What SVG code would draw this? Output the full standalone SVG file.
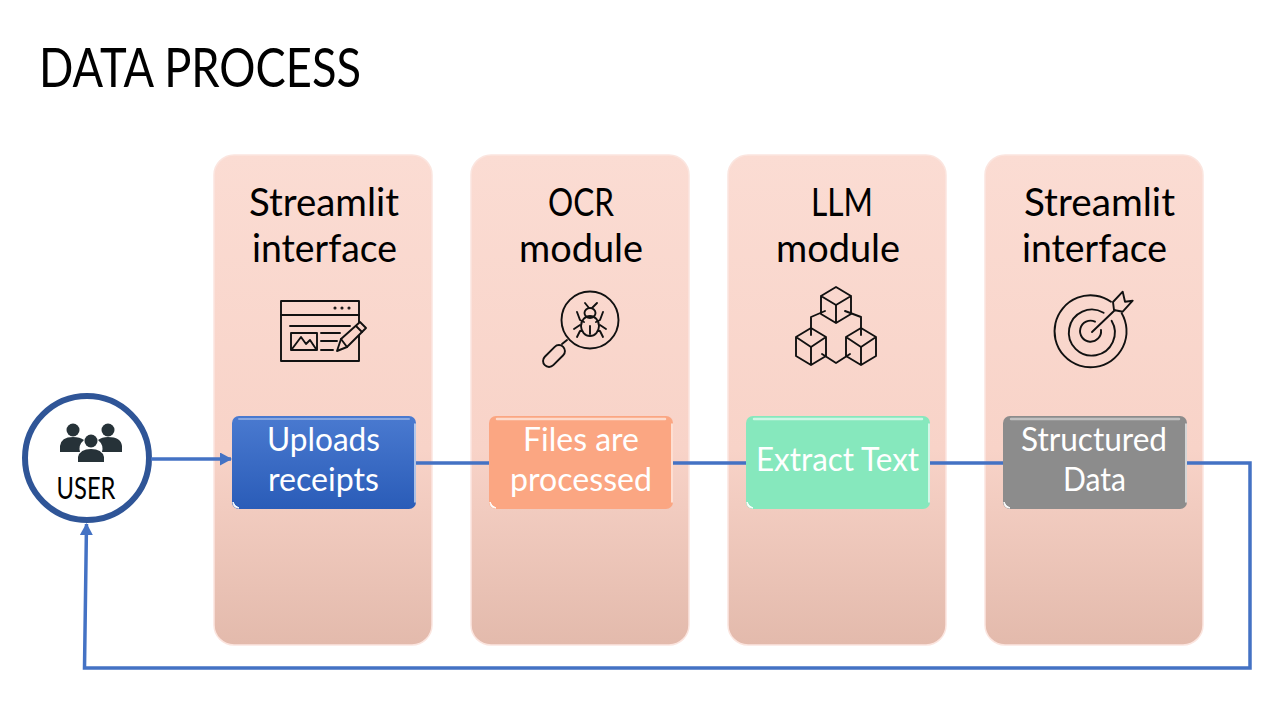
<svg xmlns="http://www.w3.org/2000/svg" width="1280" height="720" viewBox="0 0 1280 720">
<style>
text{font-family:Lato,"Noto Sans","Open Sans","DejaVu Sans",sans-serif;text-anchor:middle}
.h{font-size:39px;fill:#000}
.b{font-size:33px;fill:#fff}
.col{fill:url(#g);stroke:#fbe5df;stroke-width:1.5}
.ic{fill:none;stroke:#111;stroke-width:1.9;stroke-linejoin:round;stroke-linecap:round}
.c{fill:none;stroke:#4472c4;stroke-width:3.5}
.hi{fill:none;stroke:#fff;stroke-linecap:round}
</style>
<defs>
<linearGradient id="g" x1="0" y1="0" x2="0" y2="1"><stop offset="0" stop-color="#fbdcd3"/><stop offset=".6" stop-color="#f8d3c8"/><stop offset="1" stop-color="#e3baac"/></linearGradient>
<linearGradient id="bl" x1="0" y1="0" x2="0" y2="1"><stop offset="0" stop-color="#4a7ad0"/><stop offset="1" stop-color="#2a5cb8"/></linearGradient>
<marker id="a" markerUnits="userSpaceOnUse" markerWidth="12" markerHeight="13" refX="11" refY="6.5" orient="auto"><path d="M0 0L12 6.5L0 13Z" fill="#4472c4"/></marker>
</defs>
<rect width="1280" height="720" fill="#fff"/>
<text x="200" y="87" style="font-size:54px" fill="#000" textLength="322" lengthAdjust="spacingAndGlyphs">DATA PROCESS</text>
<g id="col1"><rect class="col" x="214" y="155" width="218" height="490" rx="20"/><text class="h" x="324" y="216" textLength="150" lengthAdjust="spacingAndGlyphs">Streamlit</text><text class="h" x="324.500" y="262" textLength="145" lengthAdjust="spacingAndGlyphs">interface</text>
<g class="ic"><rect x="281" y="301" width="78" height="60"/><path d="M281 315H359M290 326H350M321 333H340M321 341H337M321 350H333M292 349L301 337L306 344L310 340L316 349"/><rect x="291" y="333" width="26" height="17"/><path d="M337 351L341 339L360 322L366 328L347 347Z" fill="#fad5ca"/><path d="M341 339L347 347M356 326L362 332"/><circle cx="335" cy="308" r=".6"/><circle cx="342" cy="308" r=".6"/><circle cx="349" cy="308" r=".6"/></g>
<g id="box1"><rect x="232" y="416" width="184" height="93" rx="7" fill="url(#bl)"/><path class="hi" stroke-width="2" opacity=".35" d="M239 419H409"/><path class="hi" stroke-width="1.5" opacity=".8" d="M415 424V502"/><path d="M233 502Q233 508 239 508Q234 506 233 502Z" fill="#fff" stroke="#fff"/><text class="b" x="323.500" y="451" textLength="113" lengthAdjust="spacingAndGlyphs">Uploads</text><text class="b" x="323.500" y="491" textLength="111" lengthAdjust="spacingAndGlyphs">receipts</text></g></g>
<g id="col2"><rect class="col" x="471" y="155" width="218" height="490" rx="20"/><text class="h" x="581" y="216" textLength="66" lengthAdjust="spacingAndGlyphs">OCR</text><text class="h" x="581" y="262" textLength="124" lengthAdjust="spacingAndGlyphs">module</text>
<g class="ic"><circle cx="590" cy="320" r="28.500"/><path d="M562 344L567 340"/><rect x="-6" y="-13" width="12" height="26" rx="6" transform="translate(554 356) rotate(45)"/><ellipse cx="590" cy="313" rx="5.500" ry="5"/><ellipse cx="590" cy="326" rx="9" ry="10"/><path d="M590 326V334M585 303L589 308M597 303L592 308M577 312L580 320L584 322M603 312L600 320L596 322M574 329L580 325M606 329L600 325M577 337L580 331L582 331M603 337L600 331L598 331"/></g>
<g id="box2"><rect x="489" y="416" width="184" height="93" rx="7" fill="#fba682"/><path class="hi" stroke-width="2.500" opacity=".6" d="M497 419H665"/><path class="hi" stroke-width="1.500" opacity=".85" d="M672 424V502"/><path d="M490 502Q490 508 496 508Q491 506 490 502Z" fill="#fff" stroke="#fff"/><text class="b" x="581" y="451" textLength="116" lengthAdjust="spacingAndGlyphs">Files are</text><text class="b" x="581" y="491" textLength="142" lengthAdjust="spacingAndGlyphs">processed</text></g></g>
<g id="col3"><rect class="col" x="728" y="155" width="218" height="490" rx="20"/><text class="h" x="842" y="216" textLength="62" lengthAdjust="spacingAndGlyphs">LLM</text><text class="h" x="838" y="262" textLength="124" lengthAdjust="spacingAndGlyphs">module</text>
<g class="ic"><path d="M836 287L851 296V314L836 323L821 314V296ZM821 296L836 305L851 296M836 305V323"/><path d="M811 328L826 337V356L811 365L796 356V337ZM796 337L811 347L826 337M811 347V365"/><path d="M861 328L876 337V356L861 365L846 356V337ZM846 337L861 347L876 337M861 347V365"/><path d="M811 335V317L825 311M861 335V317L845 311M822 354L836 363L850 354"/></g>
<g id="box3"><rect x="746" y="416" width="184" height="93" rx="7" fill="#86e8bd"/><path class="hi" stroke-width="2.500" opacity=".6" d="M754 419H922"/><path class="hi" stroke-width="1.500" opacity=".85" d="M929 424V502"/><path d="M747 502Q747 508 753 508Q748 506 747 502Z" fill="#fff" stroke="#fff"/><text class="b" x="837.500" y="471" textLength="163" lengthAdjust="spacingAndGlyphs">Extract Text</text></g></g>
<g id="col4"><rect class="col" x="985" y="155" width="218" height="490" rx="20"/><text class="h" x="1099.500" y="216" textLength="151" lengthAdjust="spacingAndGlyphs">Streamlit</text><text class="h" x="1094.500" y="262" textLength="145" lengthAdjust="spacingAndGlyphs">interface</text>
<g class="ic"><path d="M1111 301.700A36 36 0 1 0 1121.700 313.300M1103.600 312.800A23 23 0 1 0 1111.600 320.800M1095 321.700A10.500 10.500 0 1 0 1101 330"/><path d="M1092 332L1115 310M1113 302L1122.700 291.700L1125 301.700L1132.700 300.700L1122.700 311.700L1114 310Z"/></g>
<g id="box4"><rect x="1003" y="416" width="184" height="93" rx="7" fill="#8c8c8c"/><path class="hi" stroke-width="2.500" opacity=".45" d="M1011 419H1179"/><path class="hi" stroke-width="1.500" opacity=".85" d="M1186 424V502"/><path d="M1004 502Q1004 508 1010 508Q1005 506 1004 502Z" fill="#fff" stroke="#fff"/><text class="b" x="1094" y="451" textLength="146" lengthAdjust="spacingAndGlyphs">Structured</text><text class="b" x="1094.500" y="491" textLength="63" lengthAdjust="spacingAndGlyphs">Data</text></g></g>
<g id="user"><circle cx="87" cy="458" r="62" fill="#fff" stroke="#2f5597" stroke-width="6"/>
<g fill="#263238"><circle cx="73" cy="430" r="6.500"/><circle cx="108" cy="430" r="6.500"/><path d="M60 452V446Q61 437 73 437Q80 437 84 440Q78 445 80 452ZM122 452V446Q121 437 108 437Q102 437 98 440Q104 445 102 452Z"/><circle cx="91" cy="441" r="6.500"/><path d="M78 462V457Q80 449 91 449Q102 449 104 457V462Z"/></g>
<text x="86" y="499" style="font-size:30px" fill="#000" textLength="59" lengthAdjust="spacingAndGlyphs">USER</text></g>
<g id="connectors">
<path class="c" d="M151 459H231" marker-end="url(#a)"/>
<path class="c" d="M416 463H489M673 463H746M930 463H1003"/>
<path class="c" d="M1187 463H1250V668H84.500L86.500 524" marker-end="url(#a)"/>
</g>
</svg>
